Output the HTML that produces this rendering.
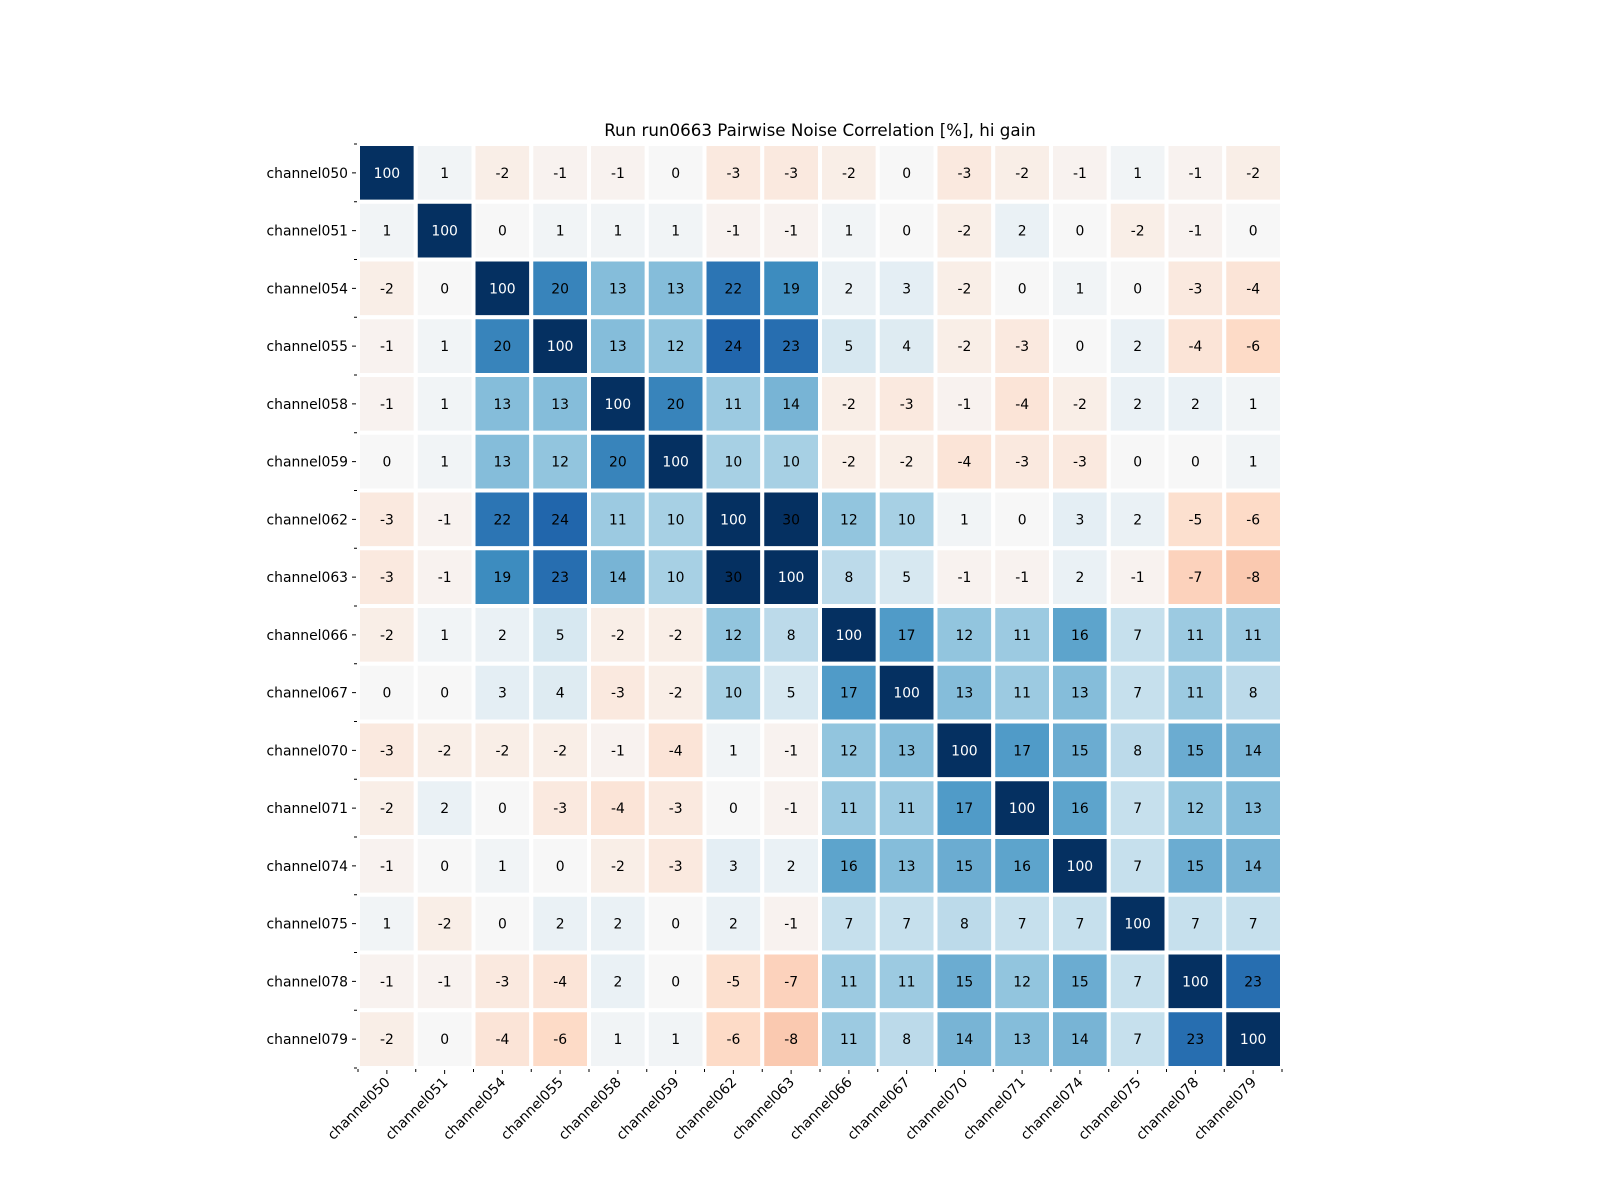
<!DOCTYPE html>
<html><head><meta charset="utf-8"><style>
body{margin:0;background:#fff;}
svg{display:block;font-family:"DejaVu Sans","Liberation Sans",sans-serif;}
</style></head><body>
<svg id="chart" width="1600" height="1200"></svg>
<script>
const channels=["channel050","channel051","channel054","channel055","channel058","channel059","channel062","channel063","channel066","channel067","channel070","channel071","channel074","channel075","channel078","channel079"];
const row0=[100,1,-2,-1,-1,0,-3,-3,-2,0,-3,-2,-1,1,-1,-2];
const row1=[1,100,0,1,1,1,-1,-1,1,0,-2,2,0,-2,-1,0];
const row2=[-2,0,100,20,13,13,22,19,2,3,-2,0,1,0,-3,-4];
const row3=[-1,1,20,100,13,12,24,23,5,4,-2,-3,0,2,-4,-6];
const row4=[-1,1,13,13,100,20,11,14,-2,-3,-1,-4,-2,2,2,1];
const row5=[0,1,13,12,20,100,10,10,-2,-2,-4,-3,-3,0,0,1];
const row6=[-3,-1,22,24,11,10,100,30,12,10,1,0,3,2,-5,-6];
const row7=[-3,-1,19,23,14,10,30,100,8,5,-1,-1,2,-1,-7,-8];
const row8=[-2,1,2,5,-2,-2,12,8,100,17,12,11,16,7,11,11];
const row9=[0,0,3,4,-3,-2,10,5,17,100,13,11,13,7,11,8];
const row10=[-3,-2,-2,-2,-1,-4,1,-1,12,13,100,17,15,8,15,14];
const row11=[-2,2,0,-3,-4,-3,0,-1,11,11,17,100,16,7,12,13];
const row12=[-1,0,1,0,-2,-3,3,2,16,13,15,16,100,7,15,14];
const row13=[1,-2,0,2,2,0,2,-1,7,7,8,7,7,100,7,7];
const row14=[-1,-1,-3,-4,2,0,-5,-7,11,11,15,12,15,7,100,23];
const row15=[-2,0,-4,-6,1,1,-6,-8,11,8,14,13,14,7,23,100];
const matrix=[row0,row1,row2,row3,row4,row5,row6,row7,row8,row9,row10,row11,row12,row13,row14,row15];
const title="Run run0663 Pairwise Noise Correlation [%], hi gain";

const NS="http://www.w3.org/2000/svg";
const svg=document.getElementById('chart');
const x0=358,y0=144,W=924,H=924,n=channels.length,cw=W/n,ch=H/n;
const xs=i=>x0+i*cw, ys=i=>y0+i*ch;
const stops=["#67001f","#b2182b","#d6604d","#f4a582","#fddbc7","#f7f7f7","#d1e5f0","#92c5de","#4393c3","#2166ac","#053061"];
function hex(h){return [1,3,5].map(k=>parseInt(h.substr(k,2),16));}
function color(v){let t=(v+30)/60;t=Math.max(0,Math.min(1,t));const p=t*10,i=Math.min(9,Math.floor(p)),f=p-i;
const a=hex(stops[i]),b=hex(stops[i+1]);return `rgb(${a.map((c,k)=>Math.round(c+(b[k]-c)*f)).join(',')})`;}
function mk(tag,attrs){const e=document.createElementNS(NS,tag);for(const k in attrs)e.setAttribute(k,attrs[k]);svg.appendChild(e);return e;}

const t=mk('text',{x:(x0+x0+W)/2,y:136,'text-anchor':'middle','font-size':16.7,fill:'#000'});
t.textContent=title;



matrix.forEach((row,r)=>row.forEach((v,c)=>{
  const rc=mk('rect',{x:xs(c),y:ys(r),width:cw,height:ch,fill:color(v),stroke:'#fff','stroke-width':4});
  
  
  const tx=mk('text',{x:xs(c)+cw/2,y:ys(r)+ch/2+5,'text-anchor':'middle','font-size':13.9,fill:v>=50?'#fff':'#000'});
  tx.textContent=v;
  
  
}));

for(let i=0;i<=n;i++){
  mk('line',{x1:x0-4,x2:x0-1,y1:ys(i),y2:ys(i),stroke:'#000','stroke-width':1});
  mk('line',{x1:xs(i),x2:xs(i),y1:y0+H+1,y2:y0+H+4,stroke:'#000','stroke-width':1});
}
channels.forEach((name,i)=>{
  const cy=ys(i)+ch/2;
  mk('line',{x1:x0-6,x2:x0-2,y1:cy,y2:cy,stroke:'#000','stroke-width':1});
  const yl=mk('text',{x:x0-10,y:cy+5,'text-anchor':'end','font-size':13.9,fill:'#000'});
  yl.textContent=name;
  
  
  const cx=xs(i)+cw/2;
  mk('line',{x1:cx,x2:cx,y1:y0+H+2,y2:y0+H+6,stroke:'#000','stroke-width':1});
  const xl=mk('text',{x:cx+4,y:y0+H+15,'text-anchor':'end','font-size':13.9,fill:'#000',transform:`rotate(-45 ${cx+4} ${y0+H+15})`});
  xl.textContent=name;
  
  
});
</script>
</body></html>
